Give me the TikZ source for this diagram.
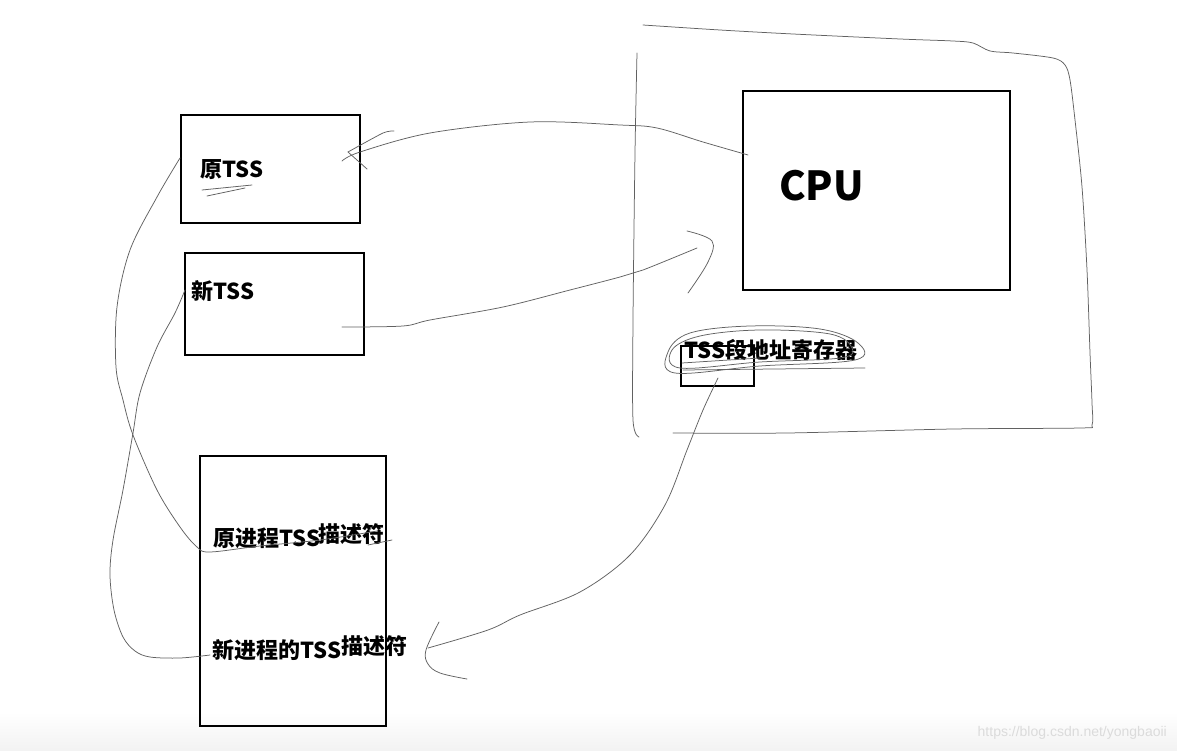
\documentclass[tikz,border=0pt]{standalone}
\usepackage{fontspec}
\setmainfont{Liberation Sans}
\newfontfamily\cjk{Noto Sans CJK SC}
\begin{document}
\begin{tikzpicture}[x=1pt,y=-1pt,
  box/.style={draw=black,line width=2.3pt,anchor=north west,inner sep=0},
  pen/.style={draw=black!62,line width=0.75pt,line cap=round,line join=round},
  lbl/.style={font=\cjk\bfseries\fontsize{22}{26}\selectfont,inner sep=0,anchor=west}]
\useasboundingbox (0,0) rectangle (1177,751);
\fill[white] (0,0) rectangle (1177,751);
\shade[top color=white,bottom color=black!5] (0,712) rectangle (1177,751);

% boxes
\node[box,minimum width=179,minimum height=108] (oldtss) at (180,114) {};
\node[box,minimum width=179,minimum height=102] (newtss) at (184,252) {};
\node[box,minimum width=267,minimum height=199] (cpu) at (742,90) {};
\node[box,minimum width=186,minimum height=270] (gdt) at (199,455) {};

% labels
\node[lbl] (toldtss) at (200,170) {原TSS};
\node[lbl] (tnewtss) at (191,291) {新TSS};
\node[lbl,font=\cjk\bfseries\fontsize{40}{46}\selectfont] (tcpu) at (779,186) {CPU};
\node[lbl] (treg) at (684,350) {TSS段地址寄存器};
\node[lbl] (told) at (213,538) {原进程TSS};
\node[lbl] (toldd) at (318,534) {描述符};
\node[lbl] (tnew) at (212,650) {新进程的TSS};
\node[lbl] (tnewd) at (341,646) {描述符};
\node[draw=black,line width=2pt,anchor=north west,minimum width=73,minimum height=40,inner sep=0] (reg) at (680,345) {};

% watermark
\node[font=\fontsize{14}{16}\selectfont,text=black!14,anchor=east,inner sep=0] (wm) at (1167,733) {https://blog.csdn.net/yongbaoii};

% outer CPU region (freehand)
\draw[pen] plot[smooth,tension=0.5] coordinates {(643,25) (720,30) (793,34) (900,39) (953,41) (973,43) (990,51) (1013,53) (1053,58) (1065,65) (1070,80) (1075,120) (1082,187) (1087,270) (1090,353) (1092,403) (1092,425) (1080,428) (953,429) (787,433) (673,433)};
\draw[pen] plot[smooth,tension=0.5] coordinates {(637,53) (635,153) (633,320) (633,420) (639,437)};

% named end points
\coordinate (a1) at (748,155);
\coordinate (a2) at (342,161);
\coordinate (b1) at (342,327);
\coordinate (b2) at (697,248);
\coordinate (c1) at (718,378);
\coordinate (c2) at (428,648);
\coordinate (d1) at (180,158);
\coordinate (d2) at (377,531);
\coordinate (e1) at (185,290);
\coordinate (e2) at (210,655);

% CPU -> old TSS
\draw[pen] plot[smooth,tension=0.55] coordinates {(a1) (703,142) (657,128) (620,125) (530,122) (430,133) (360,152) (a2)};
\draw[pen] plot[smooth,tension=0.4] coordinates {(394,131) (383,133) (348,152)};
\draw[pen] (348,152) -- (367,169);

% new TSS -> CPU
\draw[pen] plot[smooth,tension=0.55] coordinates {(b1) (403,326) (430,320) (503,307) (570,290) (620,277) (643,270) (b2)};
\draw[pen] plot[smooth,tension=0.6] coordinates {(687,231) (712,241) (708,262) (688,293)};

% register -> new descriptor
\draw[pen] plot[smooth,tension=0.55] coordinates {(c1) (703,410) (687,450) (665,505) (630,555) (580,592) (520,615) (488,630) (c2)};
\draw[pen] plot[smooth,tension=0.6] coordinates {(439,622) (426,650) (428,664) (440,673) (467,679)};

% old TSS -> old descriptor
\draw[pen] plot[smooth,tension=0.55] coordinates {(d1) (157,197) (130,250) (117,307) (116,367) (123,400) (133,435) (157,490) (180,527) (197,547) (210,552) (260,546) (320,540) (d2)};

% new TSS -> new descriptor
\draw[pen] plot[smooth,tension=0.55] coordinates {(e1) (175,313) (157,347) (140,393) (133,433) (123,490) (113,540) (110,575) (114,610) (123,637) (135,651) (150,657) (180,658) (e2)};

% scribbles
\draw[pen] (202,190) -- (252,185);
\draw[pen] (207,196) -- (245,188);
\draw[pen] (368,545) -- (392,540);
\draw[pen] plot[smooth cycle,tension=0.6] coordinates {(668,352) (690,333) (750,326) (820,329) (858,343) (855,360) (760,366) (675,373)};
\draw[pen] plot[smooth cycle,tension=0.6] coordinates {(672,350) (700,336) (760,330) (830,334) (852,348) (840,358) (760,362) (680,368)};
\draw[pen] (683,370) -- (865,368);
\draw[pen] (682,363) -- (760,358);
\end{tikzpicture}
\end{document}
